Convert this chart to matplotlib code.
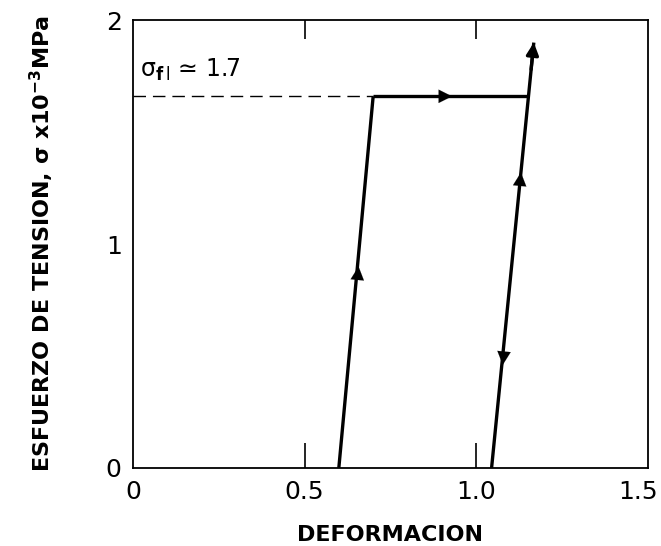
import matplotlib.pyplot as plt
import matplotlib.transforms as mtransforms

# loading path: first loading, plastic flow at sigma_f1, reload
load1_x = [0.60, 0.70]
load1_y = [0.0, 1.66]
flow_x = [0.70, 1.148]
flow_y = [1.66, 1.66]
load2_x = [1.045, 1.168]
load2_y = [0.0, 1.90]
sigma_f1 = 1.66

# arrow positions (x, y, direction)
arrows = [(0.655, 0.86, 'up'), (0.89, 1.66, 'right'),
          (1.128, 1.28, 'up'), (1.080, 0.50, 'down')]

xticks = [0, 0.5, 1.0, 1.5]
xticklabels = ['0', '0.5', '1.0', '1.5']
yticks = [0, 1, 2]

plt.rcParams['font.family'] = ['DejaVu Sans']

fig = plt.figure(figsize=(6.61, 5.46), dpi=100)
ax = fig.add_axes([0.201, 0.143, 0.779, 0.820])

ax.plot([0, 0.70], [sigma_f1, sigma_f1], color='black', lw=1.0, dashes=(9, 5))
ax.plot(load1_x, load1_y, color='black', lw=2.4, solid_capstyle='butt')
ax.plot(flow_x, flow_y, color='black', lw=2.4, solid_capstyle='butt')
ax.plot(load2_x, load2_y, color='black', lw=2.4, solid_capstyle='butt')

# end arrowhead
ax.annotate('', xy=(load2_x[1], load2_y[1]), xytext=(1.160, 1.78),
            arrowprops=dict(arrowstyle='-|>', color='black', lw=2.4,
                            mutation_scale=18, shrinkA=0, shrinkB=0))

for x, y, d in arrows:
    if d == 'right':
        dx, dy = 0.04, 0.0
    elif d == 'up':
        dx, dy = 0.0025, 0.04
    else:
        dx, dy = -0.0025, -0.04
    ax.annotate('', xy=(x + dx, y + dy), xytext=(x, y),
                arrowprops=dict(arrowstyle='-|>', color='black', lw=0.1,
                                mutation_scale=24, shrinkA=0, shrinkB=0))

ax.text(0.02, 1.78, '\u03c3$_{\\mathbf{f}\\,\\mathrm{l}}$ \u2243 1.7', fontsize=17,
        va='center', ha='left')

ax.set_xlim(0, 1.5)
ax.set_ylim(0, 2)
ax.set_xticks(xticks)
ax.set_xticklabels(xticklabels)
ax.set_yticks(yticks)
ax.tick_params(axis='both', direction='in', labelsize=18, length=18, width=1.2,
               top=True, right=True, pad=8)
ax.tick_params(axis='x', pad=9)
for t in ax.xaxis.get_major_ticks():
    if t.get_loc() in (0, 1.5):
        t.tick1line.set_visible(False)
        t.tick2line.set_visible(False)
    t.tick2line.set_markersize(14)
for t in ax.yaxis.get_major_ticks():
    if t.get_loc() in (0, 2):
        t.tick1line.set_visible(False)
        t.tick2line.set_visible(False)
    t.tick1line.set_markersize(24)
for s in ax.spines.values():
    s.set_linewidth(1.3)

# nudge the last x label so it stays inside the figure
lab = ax.get_xticklabels()[-1]
lab.set_transform(lab.get_transform() +
                  mtransforms.ScaledTranslation(-7 / 72, 0, fig.dpi_scale_trans))

ax.set_xlabel('DEFORMACION', fontsize=16, fontweight='bold', labelpad=15)
ax.set_ylabel('ESFUERZO DE TENSION, \u03c3 x10$^{\\mathbf{-3}}$MPa', fontsize=16,
              fontweight='bold', labelpad=36)

fig.savefig('out.png', dpi=100)
